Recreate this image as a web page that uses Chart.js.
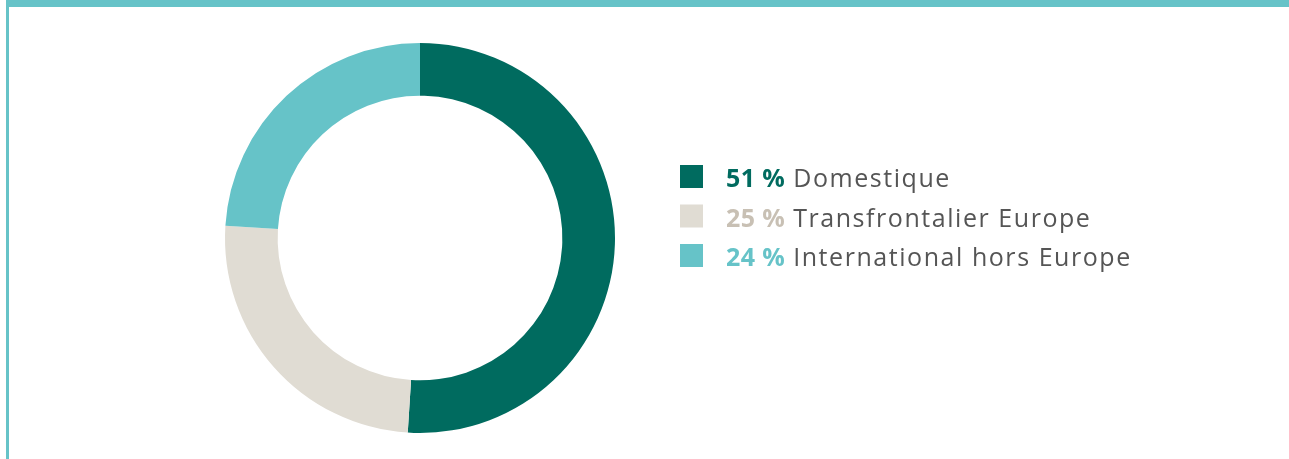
<!DOCTYPE html>
<html>
<head>
<meta charset="utf-8">
<script src="https://cdn.jsdelivr.net/npm/chart.js@4.4.1/dist/chart.umd.min.js"></script>
<style>
  html, body { margin: 0; padding: 0; background: #fff; }
  #wrap { position: relative; width: 1289px; height: 459px; }
</style>
</head>
<body>
<div id="wrap"><canvas id="c" width="1289" height="459"></canvas></div>
<script>
const categories = ["Domestique", "Transfrontalier Europe", "International hors Europe"];
const values = [51, 25, 24];
const valueLabels = ["51 %", "25 %", "24 %"];
const sliceColors = ["#006b5f", "#e0dcd3", "#66c3c8"];
const labelColors = ["#006b5f", "#c8c0b4", "#66c3c8"];

const framePlugin = {
  id: 'frame',
  beforeDraw(chart) {
    const ctx = chart.ctx;
    ctx.save();
    ctx.fillStyle = '#66c3c8';
    ctx.fillRect(6, 0, 1289 - 6, 7);
    ctx.fillRect(6, 0, 3, 459);
    ctx.restore();
  }
};

const legendPlugin = {
  id: 'sideLegend',
  afterDraw(chart) {
    const ctx = chart.ctx;
    ctx.save();
    const x0 = 680, y0 = 165, step = 39.5, box = 23;
    ctx.textBaseline = 'alphabetic';
    categories.forEach((cat, i) => {
      const y = y0 + i * step;
      ctx.fillStyle = sliceColors[i];
      ctx.fillRect(x0, y, box, box);
      const ty = y + 22;
      ctx.letterSpacing = '0.4px';
      ctx.font = 'bold 25px "Open Sans"';
      ctx.fillStyle = labelColors[i];
      const lbl = valueLabels[i];
      ctx.fillText(lbl, 726, ty);
      const w = ctx.measureText(lbl).width;
      ctx.letterSpacing = '1.55px';
      ctx.font = '25px "Open Sans"';
      ctx.fillStyle = '#555555';
      ctx.fillText(cat, 726 + w + 8, ty);
    });
    ctx.restore();
  }
};

new Chart(document.getElementById('c'), {
  type: 'doughnut',
  data: {
    labels: categories,
    datasets: [{
      data: values,
      backgroundColor: sliceColors,
      borderWidth: 0,
      hoverOffset: 0
    }]
  },
  options: {
    responsive: false,
    animation: false,
    cutout: '73%',
    layout: { padding: { left: 225, right: 674, top: 43, bottom: 26 } },
    plugins: { legend: { display: false }, tooltip: { enabled: false } }
  },
  plugins: [framePlugin, legendPlugin]
});
</script>
</body>
</html>
